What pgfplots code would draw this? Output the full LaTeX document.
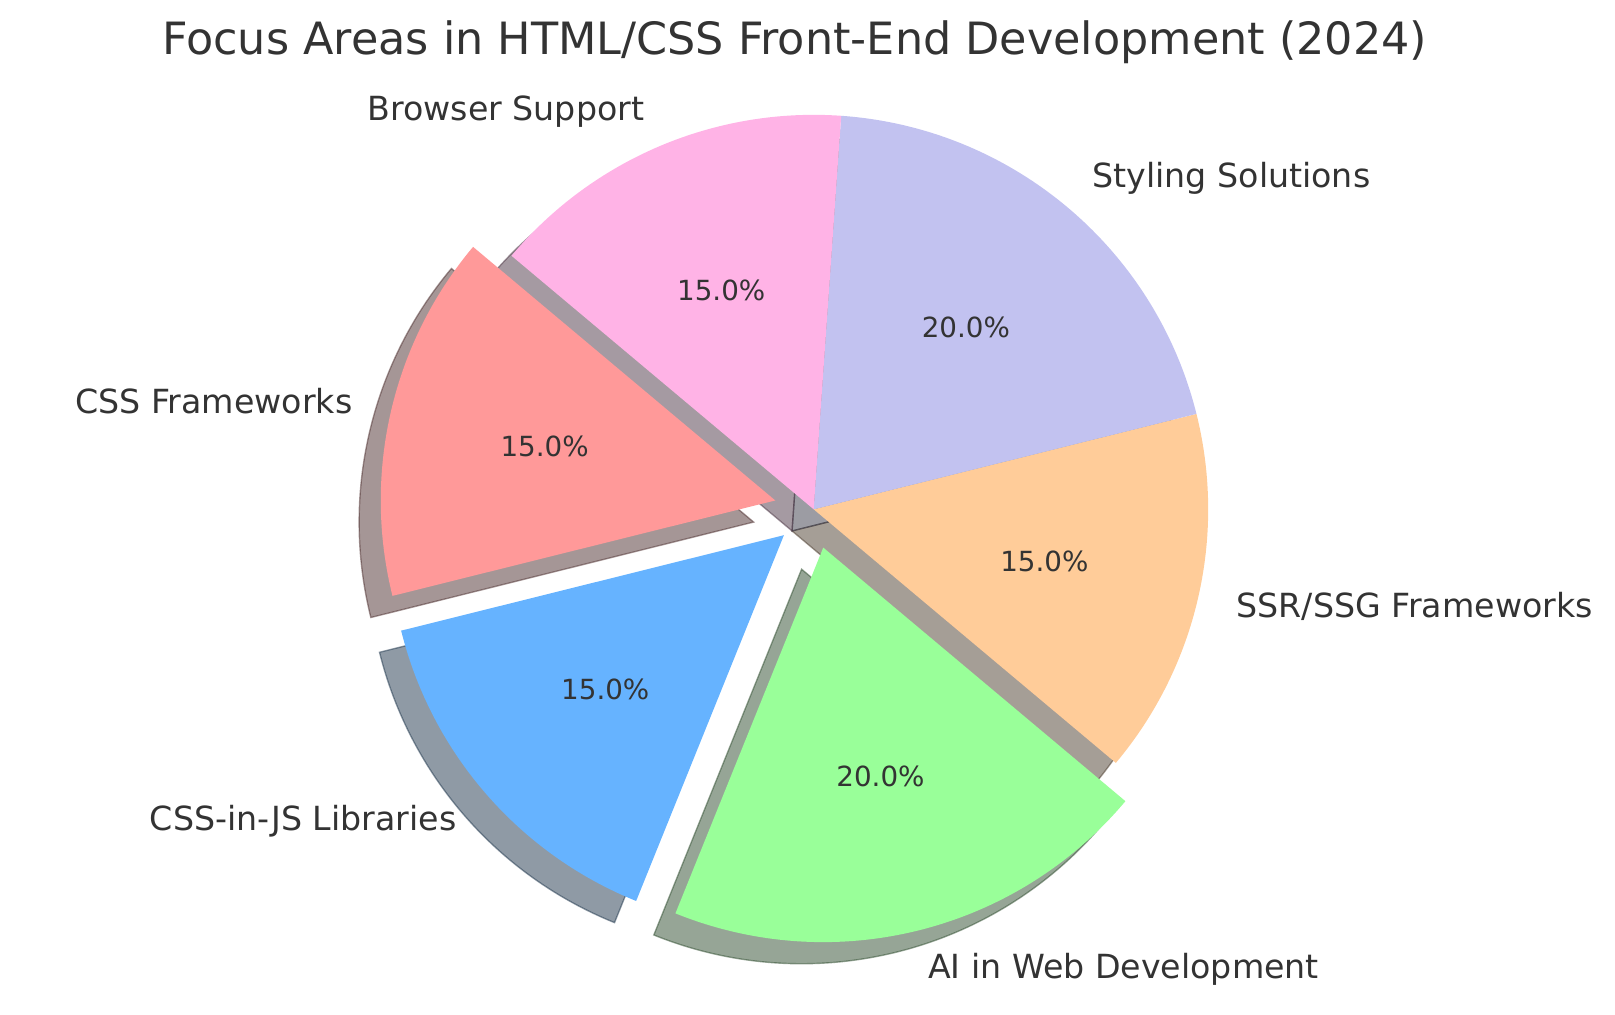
\documentclass[border=0pt]{standalone}
\usepackage{pgfplots}
\pgfplotsset{compat=1.18}
\usepackage{fontspec}
\setmainfont{DejaVu Sans}
\definecolor{txt}{HTML}{333333}
\definecolor{cFw}{HTML}{FF9999}
\definecolor{cJs}{HTML}{66B3FF}
\definecolor{cAi}{HTML}{99FF99}
\definecolor{cSsr}{HTML}{FFCC99}
\definecolor{cSty}{HTML}{C2C2F0}
\definecolor{cBro}{HTML}{FFB3E6}
\tikzset{lbl/.style={inner sep=0pt, outer sep=0pt, text=txt}}
% #1 colour, #2 cx, #3 cy, #4 first rim point, #5 start angle, #6 end angle
\newcommand\pieshadow[6]{%
  \addplot[fill=#1!30!black, draw=#1!30!black, fill opacity=0.5, draw opacity=0.5,
    line width=0.5pt, line join=miter, xshift=-7.875pt, yshift=-7.875pt]
    coordinates {(#2,#3) (#4)} arc[start angle=#5, end angle=#6, radius=143.625pt] -- cycle;}
\newcommand\piewedge[6]{%
  \addplot[fill=#1, draw=none]
    coordinates {(#2,#3) (#4)} arc[start angle=#5, end angle=#6, radius=143.625pt] -- cycle;}
\begin{document}
\begin{tikzpicture}
\begin{axis}[
  scale only axis, width=588pt, height=369.1875pt,
  xmin=0, xmax=1568, ymin=0, ymax=984.5,
  hide axis, clip=false,
]
% shares (percent): CSS Frameworks 15, CSS-in-JS 15, AI 20, SSR/SSG 15, Styling 20, Browser 15
% start angle 140, counter-clockwise; first three wedges exploded by 0.1 r
% ---- shadows
\pieshadow{cFw}{752.68}{498.62}{459.29,744.81}{140}{194}
\pieshadow{cJs}{761.09}{464.87}{389.47,372.21}{194}{248}
\pieshadow{cAi}{799.27}{452.84}{655.79,97.73}{248}{320}
\pieshadow{cSsr}{790}{490}{1083.39,243.81}{320}{374}
\pieshadow{cSty}{790}{490}{1161.62,582.66}{14}{86}
\pieshadow{cBro}{790}{490}{816.72,872.07}{86}{140}
% ---- wedges
\piewedge{cFw}{752.68}{498.62}{459.29,744.81}{140}{194}
\piewedge{cJs}{761.09}{464.87}{389.47,372.21}{194}{248}
\piewedge{cAi}{799.27}{452.84}{655.79,97.73}{248}{320}
\piewedge{cSsr}{790}{490}{1083.39,243.81}{320}{374}
\piewedge{cSty}{790}{490}{1161.62,582.66}{14}{86}
\piewedge{cBro}{790}{490}{816.72,872.07}{86}{140}
% ---- title
\node[lbl, anchor=base, font=\fontsize{16.2}{19}\selectfont] at (axis cs:771.5,931.1)
  {Focus Areas in HTML/CSS Front-End Development (2024)};
% ---- labels
\node[lbl, anchor=base east, font=\fontsize{12.1}{14}\selectfont] at (axis cs:625.39,867.8) {Browser Support};
\node[lbl, anchor=base west, font=\fontsize{12.1}{14}\selectfont] at (axis cs:1060.81,802.7) {Styling Solutions};
\node[lbl, anchor=base west, font=\fontsize{12.1}{14}\selectfont] at (axis cs:1200.50,385.2) {SSR/SSG Frameworks};
\node[lbl, anchor=base east, font=\fontsize{12.1}{14}\selectfont] at (axis cs:342.18,583.4) {CSS Frameworks};
\node[lbl, anchor=base east, font=\fontsize{12.1}{14}\selectfont] at (axis cs:443.13,178.5) {CSS-in-JS Libraries};
\node[lbl, anchor=base west, font=\fontsize{12.1}{14}\selectfont] at (axis cs:901.19,34.05) {AI in Web Development};
% ---- percentages
\node[lbl, anchor=base, font=\fontsize{10.1}{12}\selectfont] at (axis cs:700.21,692.5) {15.0\%};
\node[lbl, anchor=base, font=\fontsize{10.1}{12}\selectfont] at (axis cs:937.71,657.0) {20.0\%};
\node[lbl, anchor=base, font=\fontsize{10.1}{12}\selectfont] at (axis cs:1013.91,429.3) {15.0\%};
\node[lbl, anchor=base, font=\fontsize{10.1}{12}\selectfont] at (axis cs:528.77,541.3) {15.0\%};
\node[lbl, anchor=base, font=\fontsize{10.1}{12}\selectfont] at (axis cs:587.66,305.1) {15.0\%};
\node[lbl, anchor=base, font=\fontsize{10.1}{12}\selectfont] at (axis cs:854.86,220.9) {20.0\%};
\end{axis}
\pgfresetboundingbox
\path[use as bounding box] (current axis.south west) rectangle (current axis.north east);
\end{tikzpicture}
\end{document}
